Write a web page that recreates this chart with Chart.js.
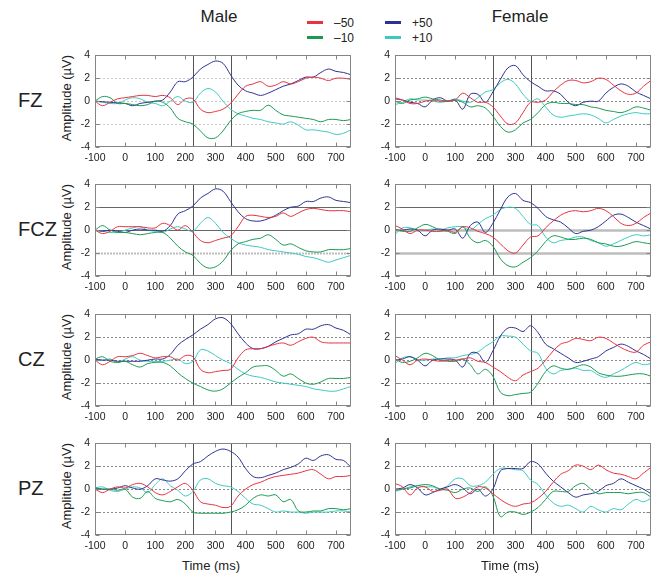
<!DOCTYPE html>
<html>
<head>
<meta charset="utf-8">
<script src="https://cdn.jsdelivr.net/npm/chart.js@4.4.1/dist/chart.umd.min.js"></script>
<style>
  body { margin: 0; width: 660px; height: 579px; overflow: hidden; position: relative; background: #fff;
         font-family: "Liberation Sans", Arial, sans-serif; color: #222; }
  canvas { position: absolute; }
  .lbl { position: absolute; white-space: nowrap; line-height: 1; }
  .key { position: absolute; width: 16px; height: 3px; }
</style>
</head>
<body>
<script>
const times = [-100, -75, -50, -25, 0, 25, 50, 75, 100, 125, 150, 175, 200, 225, 250, 275, 300,
  325, 350, 375, 400, 425, 450, 475, 500, 525, 550, 575, 600, 625, 650, 675, 700, 725, 750];
const timeTicks = [-100, 0, 100, 200, 300, 400, 500, 600, 700];
const ampTicks = [-4, -2, 0, 2, 4];
const refLevels = [2, 0, -2];
const windowEdges = [225, 350];
const conditions = ["–50", "–10", "+50", "+10"];
const sexes = ["Male", "Female"];
const sites = ["FZ", "FCZ", "CZ", "PZ"];

// FZ
const fzMaleNeg50 = [0, -0.4, -0.1, 0.2, 0.3, 0.4, 0.5, 0.5, 0.4, 0.5, 0.3, -0.3, 0.2, 0.2, -0.7, -1.0, -0.9, -0.7, -0.2, 0.6, 1.3, 1.5, 1.7, 1.3, 1.4, 1.7, 1.5, 1.7, 2.0, 2.1, 2.0, 1.8, 2.0, 2.0, 1.9];
const fzMaleNeg10 = [0, 0.4, 0.3, -0.2, -0.2, -0.3, -0.4, -0.3, 0.0, -0.1, -0.6, -1.5, -1.8, -2.0, -2.6, -3.2, -3.2, -2.6, -1.7, -1.1, -0.9, -0.8, -0.8, -0.35, -0.8, -1.2, -1.3, -1.4, -1.5, -1.6, -1.8, -1.6, -1.6, -1.7, -1.6];
const fzMalePos50 = [0, -0.05, -0.1, -0.15, -0.2, -0.4, -0.2, -0.1, 0.0, 0.1, 0.8, 1.7, 1.7, 2.1, 2.8, 3.2, 3.5, 3.3, 2.3, 1.4, 0.9, 0.7, 0.5, 0.7, 1.0, 1.3, 1.5, 1.8, 2.1, 2.1, 2.5, 2.8, 2.6, 2.5, 2.3];
const fzMalePos10 = [0, -0.1, -0.2, -0.2, 0.1, 0.3, 0.2, -0.1, -0.2, -0.4, 0.0, 0.4, 0.0, -0.1, 0.7, 1.1, 0.8, 0.0, -0.7, -1.1, -1.3, -1.5, -1.6, -1.8, -1.9, -2.0, -1.8, -2.1, -2.5, -2.5, -2.6, -2.7, -2.9, -2.8, -2.5];
const fzFemaleNeg50 = [0.3, 0.1, -0.2, -0.2, 0.0, 0.1, 0.0, 0.0, 0.1, 0.7, 0.3, -0.1, -0.1, -0.5, -1.3, -2.0, -1.9, -1.0, -0.1, -0.1, 0.1, 0.8, 1.4, 1.8, 1.8, 1.6, 1.7, 2.0, 1.9, 1.4, 0.9, 0.6, 0.7, 1.3, 1.8];
const fzFemaleNeg10 = [0.0, -0.2, 0.1, 0.2, 0.35, 0.2, 0.1, 0.0, 0.1, -0.1, -0.5, -0.4, -0.6, -1.3, -2.2, -2.7, -2.5, -1.9, -1.6, -1.0, -0.3, -0.1, -0.2, -0.2, -0.3, -0.3, -0.5, -0.6, -0.8, -0.9, -1.0, -0.8, -0.5, -0.6, -0.8];
const fzFemalePos50 = [0.2, 0.1, -0.1, -0.2, -0.5, 0.1, 0.3, 0.0, 0.1, -0.7, 0.6, 0.6, -0.1, 0.8, 1.9, 2.9, 3.1, 2.3, 1.7, 1.3, 0.9, 0.9, 0.6, -0.1, -0.4, -0.1, 0.0, 0.0, 0.7, 1.2, 1.5, 1.3, 0.8, 0.5, 0.2];
const fzFemalePos10 = [-0.3, -0.1, 0.2, 0.1, 0.1, 0.0, -0.1, 0.0, 0.2, 0.0, -0.1, 0.3, 0.8, 1.0, 1.6, 1.9, 1.5, 0.6, 0.0, 0.2, -0.5, -1.2, -1.4, -1.3, -1.2, -1.1, -1.2, -1.5, -1.9, -1.6, -1.3, -1.1, -1.0, -1.1, -1.1];

// FCZ
const fczMaleNeg50 = [0, -0.3, -0.1, 0.3, 0.3, 0.3, 0.3, 0.2, 0.2, 0.6, 0.4, 0.0, 0.4, -0.2, -0.9, -1.1, -0.9, -0.7, -0.5, 0.3, 1.2, 1.3, 1.2, 1.1, 1.2, 1.5, 1.2, 1.5, 1.8, 1.9, 1.8, 1.7, 1.7, 1.7, 1.6];
const fczMaleNeg10 = [0, 0.4, 0.0, -0.2, -0.2, -0.3, -0.4, -0.3, -0.2, -0.2, -0.7, -1.4, -1.9, -2.2, -2.9, -3.3, -3.2, -2.7, -1.8, -1.2, -1.0, -0.8, -0.7, -0.4, -0.8, -1.3, -1.2, -1.5, -1.8, -1.9, -1.9, -1.7, -1.7, -1.7, -1.6];
const fczMalePos50 = [0, -0.1, 0.0, -0.1, -0.2, 0.0, 0.1, 0.0, 0.0, -0.1, 0.4, 1.4, 1.7, 2.1, 2.8, 3.2, 3.6, 3.4, 2.5, 1.6, 1.0, 0.8, 0.8, 1.0, 1.3, 1.7, 2.0, 2.1, 2.5, 2.5, 2.8, 2.9, 2.6, 2.5, 2.4];
const fczMalePos10 = [0, -0.1, -0.2, -0.2, 0.0, 0.2, 0.3, 0.0, -0.1, -0.2, 0.1, 0.3, 0.1, -0.1, 0.6, 1.1, 0.6, -0.2, -0.7, -1.1, -1.3, -1.4, -1.5, -1.7, -1.8, -1.9, -2.0, -2.1, -2.3, -2.4, -2.6, -2.8, -2.6, -2.4, -2.2];
const fczFemaleNeg50 = [0.4, 0.1, -0.3, 0.0, 0.0, -0.1, -0.1, 0.0, -0.2, 0.3, 0.2, -0.1, -0.3, -0.6, -1.2, -1.8, -2.0, -1.3, -0.6, -0.5, 0.2, 0.8, 1.3, 1.6, 1.7, 1.6, 1.7, 1.9, 1.7, 1.2, 0.6, 0.4, 0.6, 1.1, 1.5];
const fczFemaleNeg10 = [0.1, -0.1, -0.1, 0.2, 0.5, 0.3, 0.0, -0.1, -0.3, 0.3, -0.7, -1.1, -0.9, -1.4, -2.5, -3.1, -3.2, -2.8, -2.4, -1.8, -1.0, -0.5, -0.6, -0.8, -0.8, -0.7, -0.8, -1.1, -1.2, -1.4, -1.4, -1.2, -1.0, -1.1, -1.2];
const fczFemalePos50 = [0.0, 0.0, 0.1, 0.0, -0.5, 0.0, 0.1, 0.0, 0.1, -0.7, 0.4, 0.7, -0.2, 0.6, 1.8, 2.9, 3.2, 2.6, 2.4, 1.9, 1.2, 0.9, 0.7, 0.2, -0.3, -0.1, 0.0, 0.3, 0.8, 1.3, 1.4, 1.1, 0.7, 0.4, 0.1];
const fczFemalePos10 = [-0.4, 0.2, 0.2, 0.0, 0.0, 0.1, 0.0, 0.2, 0.3, 0.3, 0.0, 0.5, 1.0, 1.3, 1.8, 2.0, 1.9, 1.2, 0.5, 0.4, -0.6, -1.1, -0.9, -0.8, -0.6, -0.6, -0.9, -1.1, -1.4, -1.2, -0.9, -0.6, -0.4, -0.5, -0.4];

// CZ
const czMaleNeg50 = [0.0, -0.4, -0.1, 0.3, 0.3, 0.4, 0.6, 0.4, 0.2, 0.3, 0.3, 0.0, 0.4, 0.3, -0.8, -1.1, -1.0, -0.9, -0.8, 0.2, 0.9, 1.0, 1.0, 1.2, 1.4, 1.5, 1.3, 1.6, 1.9, 2.0, 1.6, 1.5, 1.5, 1.5, 1.5];
const czMaleNeg10 = [0.1, 0.3, -0.1, -0.2, -0.1, -0.4, -0.6, -0.3, -0.2, -0.2, -0.5, -1.1, -1.6, -2.0, -2.3, -2.6, -2.7, -2.5, -2.0, -1.5, -1.1, -0.6, -0.5, -0.5, -0.9, -1.4, -1.2, -1.6, -2.0, -2.1, -1.9, -1.6, -1.6, -1.6, -1.5];
const czMalePos50 = [0.1, 0.0, 0.0, -0.1, -0.1, -0.1, -0.1, 0.0, 0.1, 0.1, 0.5, 1.3, 1.8, 2.2, 2.7, 3.1, 3.6, 3.7, 3.2, 2.3, 1.5, 1.0, 1.0, 1.2, 1.6, 1.9, 2.2, 2.3, 2.7, 2.7, 3.0, 3.1, 2.8, 2.6, 2.2];
const czMalePos10 = [0.0, 0.0, 0.1, -0.2, 0.1, 0.3, 0.0, -0.1, -0.1, -0.1, 0.0, 0.1, -0.3, -0.1, 0.9, 0.8, 0.4, 0.0, -0.3, -0.8, -1.2, -1.4, -1.5, -1.7, -1.9, -2.0, -2.1, -2.2, -2.3, -2.5, -2.6, -2.7, -2.7, -2.5, -2.3];
const czFemaleNeg50 = [0.4, 0.0, -0.4, 0.0, 0.1, 0.0, -0.1, 0.0, 0.0, 0.1, 0.2, -0.1, -0.2, -0.6, -1.0, -1.5, -1.8, -1.3, -1.0, -0.7, 0.0, 0.8, 1.4, 1.6, 1.9, 1.8, 1.7, 2.0, 1.9, 1.5, 1.1, 0.8, 0.7, 1.3, 1.6];
const czFemaleNeg10 = [0.1, -0.2, -0.1, 0.2, 0.6, 0.4, 0.0, -0.1, -0.1, 0.1, -0.4, -1.2, -0.8, -1.4, -2.8, -3.1, -3.0, -2.9, -2.8, -2.0, -1.0, -0.5, -0.7, -0.8, -0.6, -0.4, -0.6, -1.1, -1.3, -1.4, -1.4, -1.3, -1.2, -1.2, -1.4];
const czFemalePos50 = [0.0, 0.1, 0.3, 0.0, -0.5, 0.0, 0.1, 0.1, 0.0, -0.6, 0.6, 0.6, -0.2, 0.8, 2.1, 2.8, 2.8, 2.5, 3.0, 2.4, 1.4, 1.0, 0.6, 0.2, -0.2, -0.1, 0.1, 0.3, 0.8, 1.1, 1.4, 1.2, 0.8, 0.5, 0.1];
const czFemalePos10 = [-0.3, 0.2, 0.3, 0.0, 0.0, 0.1, 0.1, 0.2, 0.2, 0.4, 0.5, 0.7, 1.2, 1.6, 2.1, 2.1, 2.0, 1.4, 0.8, 0.6, -0.7, -1.2, -0.9, -0.8, -0.7, -0.9, -0.9, -1.3, -1.5, -1.2, -0.9, -0.5, -0.2, -0.4, -0.3];

// PZ
const pzMaleNeg50 = [0.0, -0.3, 0.0, 0.2, 0.1, 0.4, 0.5, 0.2, -0.3, -0.5, -0.2, 0.2, 0.5, -0.1, -1.1, -1.3, -1.4, -1.6, -1.5, -0.6, 0.0, 0.4, 0.6, 0.9, 1.1, 1.2, 1.3, 1.4, 1.6, 1.7, 1.3, 0.9, 1.1, 1.1, 1.2];
const pzMaleNeg10 = [0.1, 0.0, 0.0, -0.1, 0.0, -0.7, -0.8, -0.2, -0.8, -1.0, -1.1, -0.9, -1.3, -2.0, -2.1, -2.1, -2.1, -2.1, -2.0, -1.8, -1.4, -0.8, -0.5, -0.6, -0.5, -1.1, -0.9, -1.9, -2.0, -1.9, -1.9, -1.7, -1.7, -1.8, -1.7];
const pzMalePos50 = [0.1, 0.0, 0.0, 0.1, 0.3, 0.1, 0.0, 0.3, 0.9, 0.8, 0.7, 0.9, 1.6, 2.2, 2.4, 2.9, 3.3, 3.5, 3.3, 2.8, 1.8, 1.1, 1.0, 1.2, 1.4, 1.7, 1.9, 2.2, 2.7, 2.5, 2.9, 3.0, 2.6, 2.5, 1.9];
const pzMalePos10 = [0.1, 0.2, -0.1, -0.2, 0.0, 0.2, 0.1, -0.3, 0.4, 0.9, 0.3, -0.1, -0.6, -0.2, 0.8, 0.9, 0.5, 0.3, 0.2, -0.2, -0.8, -1.3, -1.4, -1.7, -2.0, -1.9, -2.0, -2.0, -2.1, -2.0, -2.0, -2.0, -1.9, -1.9, -2.0];
const pzFemaleNeg50 = [0.5, 0.2, -0.5, 0.1, 0.2, -0.2, -0.1, 0.0, -0.8, -0.7, -0.3, 0.2, 0.1, -0.4, -0.9, -1.3, -1.5, -1.3, -1.2, -0.8, -0.2, 0.6, 1.3, 1.6, 2.1, 2.0, 1.7, 2.1, 1.7, 1.4, 1.3, 1.1, 0.9, 1.4, 1.9];
const pzFemaleNeg10 = [-0.1, 0.0, 0.1, 0.3, 0.4, 0.3, 0.0, -0.1, -0.3, 0.0, 0.1, -0.2, 0.2, -0.6, -2.4, -2.0, -2.0, -2.2, -2.0, -1.6, -0.9, -0.2, -0.2, -0.2, 0.3, 0.5, 0.0, -0.4, -0.3, -0.3, -0.3, -0.4, -0.3, -0.3, -0.7];
const pzFemalePos50 = [0.0, 0.1, 0.4, 0.1, -0.5, -0.3, 0.0, 0.2, 0.4, 0.1, -0.4, 0.0, -0.6, 0.0, 1.6, 1.8, 1.8, 1.8, 2.4, 2.2, 1.4, 0.7, 0.2, -0.3, -0.7, -0.5, -0.4, -0.2, 0.3, 0.5, 0.9, 0.6, 0.3, 0.0, -0.4];
const pzFemalePos10 = [-0.2, 0.0, 0.2, 0.3, 0.2, 0.2, 0.0, 0.3, 0.9, 0.9, 0.3, 0.3, 0.6, 1.3, 1.8, 1.8, 1.7, 1.6, 0.8, 0.4, -0.5, -1.2, -1.5, -1.4, -1.7, -2.0, -1.5, -1.8, -2.0, -1.7, -1.8, -1.3, -0.9, -1.1, -0.8];

const panelSeries = [
  [[fzMaleNeg50, fzMaleNeg10, fzMalePos50, fzMalePos10], [fzFemaleNeg50, fzFemaleNeg10, fzFemalePos50, fzFemalePos10]],
  [[fczMaleNeg50, fczMaleNeg10, fczMalePos50, fczMalePos10], [fczFemaleNeg50, fczFemaleNeg10, fczFemalePos50, fczFemalePos10]],
  [[czMaleNeg50, czMaleNeg10, czMalePos50, czMalePos10], [czFemaleNeg50, czFemaleNeg10, czFemalePos50, czFemalePos10]],
  [[pzMaleNeg50, pzMaleNeg10, pzMalePos50, pzMalePos10], [pzFemaleNeg50, pzFemaleNeg10, pzFemalePos50, pzFemalePos10]]
];

// Look
const condColors = ["#e8333f", "#1c9a52", "#2e3192", "#3ec9c0"];
const colLeft = [95, 395];
const rowTop = [55, 184, 314, 443];
const plotW = 256;
const plotH = 92;
const tickFont = { family: "'Liberation Sans', Arial, sans-serif", size: 10.5 };

const dotLight = { color: "#c9c9c9", width: 1, dash: [2, 2] };
const dotDark = { color: "#8a8a8a", width: 1, dash: [2, 2] };
const solidDark = { color: "#666", width: 1, dash: [] };
const thickLight = { color: "#bdbdbd", width: 2.5, dash: [] };
const thickDot = { color: "#bdbdbd", width: 2, dash: [2, 1] };
const refStyles = [
  [[dotLight, dotLight, dotLight], [dotDark, dotDark, dotDark]],
  [[solidDark, solidDark, thickDot], [solidDark, thickLight, thickLight]],
  [[dotDark, dotDark, dotDark], [dotDark, dotDark, dotDark]],
  [[dotDark, dotDark, dotDark], [dotDark, dotDark, dotDark]]
];

// reference lines, analysis window, frame and inward ticks
const panelDecor = {
  id: "panelDecor",
  beforeDatasetsDraw(chart, args, opts) {
    const { ctx, chartArea: a, scales: { x, y } } = chart;
    ctx.save();
    refLevels.forEach((lv, i) => {
      const st = opts.refStyle[i];
      const py = Math.round(y.getPixelForValue(lv)) + 0.5;
      ctx.strokeStyle = st.color;
      ctx.lineWidth = st.width;
      ctx.setLineDash(st.dash);
      ctx.beginPath();
      ctx.moveTo(a.left, py);
      ctx.lineTo(a.right, py);
      ctx.stroke();
    });
    ctx.setLineDash([]);
    ctx.strokeStyle = "#555";
    ctx.lineWidth = 1;
    windowEdges.forEach((t) => {
      const px = Math.round(x.getPixelForValue(t)) + 0.5;
      ctx.beginPath();
      ctx.moveTo(px, a.top);
      ctx.lineTo(px, a.bottom);
      ctx.stroke();
    });
    ctx.restore();
  },
  afterDatasetsDraw(chart) {
    const { ctx, chartArea: a, scales: { x, y } } = chart;
    const L = Math.round(a.left) + 0.5, R = Math.round(a.right) - 0.5;
    const T = Math.round(a.top) + 0.5, B = Math.round(a.bottom) - 0.5;
    ctx.save();
    ctx.strokeStyle = "#858585";
    ctx.lineWidth = 1;
    ctx.strokeRect(L, T, R - L, B - T);
    ctx.beginPath();
    timeTicks.forEach((t) => {
      const px = Math.round(x.getPixelForValue(t)) + 0.5;
      ctx.moveTo(px, B); ctx.lineTo(px, B - 4);
      ctx.moveTo(px, T); ctx.lineTo(px, T + 4);
    });
    ampTicks.forEach((v) => {
      const py = Math.round(y.getPixelForValue(v)) + 0.5;
      ctx.moveTo(L, py); ctx.lineTo(L + 4, py);
      ctx.moveTo(R, py); ctx.lineTo(R - 4, py);
    });
    ctx.stroke();
    ctx.restore();
  }
};

function panelConfig(values, refStyle) {
  return {
    type: "line",
    data: {
      datasets: values.map((vals, i) => ({
        label: conditions[i],
        data: times.map((t, k) => ({ x: t, y: vals[k] })),
        borderColor: condColors[i],
        borderWidth: 1,
        pointRadius: 0,
        tension: 0.35,
        fill: false
      }))
    },
    options: {
      responsive: false,
      animation: false,
      events: [],
      layout: { padding: { top: 8, right: 12, left: 0, bottom: 0 } },
      plugins: {
        legend: { display: false },
        tooltip: { enabled: false },
        panelDecor: { refStyle: refStyle }
      },
      scales: {
        x: {
          type: "linear",
          min: -100,
          max: 750,
          afterBuildTicks: (s) => { s.ticks = timeTicks.map((v) => ({ value: v })); },
          afterFit: (s) => { s.height = 22; },
          grid: { display: false, drawTicks: false },
          border: { display: false },
          ticks: { color: "#222", font: tickFont, padding: 5, maxRotation: 0, autoSkip: false }
        },
        y: {
          min: -4,
          max: 4,
          afterBuildTicks: (s) => { s.ticks = ampTicks.map((v) => ({ value: v })); },
          afterFit: (s) => { s.width = 34; },
          grid: { display: false, drawTicks: false },
          border: { display: false },
          ticks: { color: "#222", font: tickFont, padding: 5 }
        }
      }
    },
    plugins: [panelDecor]
  };
}

function newCanvas(w, h) {
  const cv = document.createElement("canvas");
  cv.width = w;
  cv.height = h;
  cv.style.width = w + "px";
  cv.style.height = h + "px";
  document.body.appendChild(cv);
  return cv;
}

function buildPanel(r, c) {
  const values = panelSeries[r][c];
  const style = refStyles[r][c];
  let w = plotW + 34 + 12;
  let h = plotH + 8 + 22;
  let cv = newCanvas(w, h);
  let chart = new Chart(cv, panelConfig(values, style));
  const a = chart.chartArea;
  const dw = Math.round(plotW - (a.right - a.left));
  const dh = Math.round(plotH - (a.bottom - a.top));
  if (dw !== 0 || dh !== 0) {
    chart.destroy();
    cv.remove();
    cv = newCanvas(w + dw, h + dh);
    chart = new Chart(cv, panelConfig(values, style));
  }
  cv.style.left = Math.round(colLeft[c] - chart.chartArea.left) + "px";
  cv.style.top = Math.round(rowTop[r] - chart.chartArea.top) + "px";
}

function addText(text, x, y, size, rotate) {
  const d = document.createElement("div");
  d.className = "lbl";
  d.textContent = text;
  d.style.left = x + "px";
  d.style.top = y + "px";
  d.style.fontSize = size + "px";
  d.style.transform = "translate(-50%, -50%)" + (rotate ? " rotate(-90deg)" : "");
  document.body.appendChild(d);
  return d;
}

function addLeftText(text, x, y, size) {
  const d = addText(text, x, y, size, false);
  d.style.transform = "translate(0, -50%)";
  return d;
}

// titles
addText(sexes[0], 219, 16, 17);
addText(sexes[1], 520, 16, 17);

// legend
const keyPos = [[307, 22], [307, 37], [385, 22], [385, 37]];
conditions.forEach((label, i) => {
  const k = document.createElement("div");
  k.className = "key";
  k.style.background = condColors[i];
  k.style.left = keyPos[i][0] + "px";
  k.style.top = (keyPos[i][1] - 1.5) + "px";
  document.body.appendChild(k);
  addLeftText(label, keyPos[i][0] + 27, keyPos[i][1] + 1, 12);
});

sites.forEach((site, r) => {
  addLeftText(site, 18, rowTop[r] + 45, 20);
  addText("Amplitude (µV)", 66, rowTop[r] + 43, 13, true);
  sexes.forEach((sex, c) => buildPanel(r, c));
});

addText("Time (ms)", 211, 565, 13);
addText("Time (ms)", 510, 565, 13);
</script>
</body>
</html>
